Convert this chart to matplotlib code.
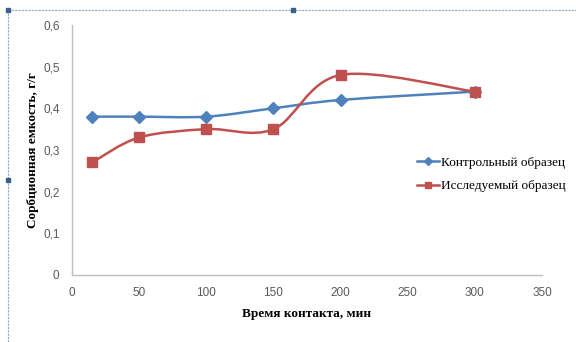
import matplotlib
matplotlib.use('Agg')
import matplotlib.pyplot as plt
from matplotlib.path import Path
from matplotlib.patches import PathPatch
from matplotlib.lines import Line2D
from matplotlib.ticker import FuncFormatter, MultipleLocator

# время контакта, мин
time_min = [15, 50, 100, 150, 200, 300]
# сорбционная емкость, г/г
control = [0.38, 0.38, 0.38, 0.40, 0.42, 0.44]
studied = [0.27, 0.33, 0.35, 0.35, 0.48, 0.44]

series_names = ['Контрольный образец', 'Исследуемый образец']
x_label = 'Время контакта, мин'
y_label = 'Сорбционная емкость, г/г'

BLUE = '#4F81BD'
RED = '#C0504D'
GREY = '#595959'


def smooth_path(xs, ys):
    """Сглаженная линия как в Excel (кривые Безье через точки)."""
    pts = list(zip(xs, ys))
    verts = [pts[0]]
    codes = [Path.MOVETO]
    n = len(pts)
    for i in range(n - 1):
        p0 = pts[i - 1] if i > 0 else pts[i]
        p1 = pts[i]
        p2 = pts[i + 1]
        p3 = pts[i + 2] if i + 2 < n else pts[i + 1]
        c1 = (p1[0] + (p2[0] - p0[0]) / 6, p1[1] + (p2[1] - p0[1]) / 6)
        c2 = (p2[0] - (p3[0] - p1[0]) / 6, p2[1] - (p3[1] - p1[1]) / 6)
        verts += [c1, c2, p2]
        codes += [Path.CURVE4] * 3
    return Path(verts, codes)


fig = plt.figure(figsize=(5.76, 3.42), dpi=100)
ax = fig.add_axes([0.125, 0.196, 0.816, 0.731])

for ys, color, marker, ms, name in [(control, BLUE, 'D', 6, series_names[0]),
                                    (studied, RED, 's', 7, series_names[1])]:
    ax.add_patch(PathPatch(smooth_path(time_min, ys), fill=False,
                           edgecolor=color, lw=1.8, zorder=2))
    ax.plot(time_min, ys, linestyle='none', marker=marker, markersize=ms,
            color=color, zorder=3)

ax.set_xlim(0, 350)
ax.set_ylim(0, 0.6)
ax.xaxis.set_major_locator(MultipleLocator(50))
ax.yaxis.set_major_locator(MultipleLocator(0.1))
ax.yaxis.set_major_formatter(FuncFormatter(
    lambda v, p: '0' if abs(v) < 1e-9 else f'{v:.1f}'.replace('.', ',')))

for s in ['top', 'right']:
    ax.spines[s].set_visible(False)
for s in ['left', 'bottom']:
    ax.spines[s].set_color('#BFBFBF')
    ax.spines[s].set_linewidth(1.0)
ax.tick_params(length=0, pad=9, labelsize=8.5, labelcolor=GREY,
               labelfontfamily='Liberation Sans')

ax.set_xlabel(x_label, fontsize=9.5, fontweight='bold',
              family='Liberation Serif', labelpad=6)
ax.set_ylabel(y_label, fontsize=9.5, fontweight='bold',
              family='Liberation Serif', labelpad=3)

handles = [Line2D([], [], color=BLUE, marker='D', markersize=4, lw=1.8),
           Line2D([], [], color=RED, marker='s', markersize=4.5, lw=1.8)]
fig.legend(handles, series_names, loc='center left',
           bbox_to_anchor=(0.724, 0.49), frameon=False,
           prop={'family': 'Liberation Serif', 'size': 9.5},
           handlelength=1.7, handletextpad=0.1, labelspacing=0.85,
           borderaxespad=0, borderpad=0)

# рамка выделения диаграммы
fig.add_artist(Line2D([0.014, 1.0], [0.971, 0.971], transform=fig.transFigure,
                      color='#8EA9C8', lw=0.8, linestyle=(0, (2, 1))))
fig.add_artist(Line2D([0.014, 0.014], [0.0, 0.971], transform=fig.transFigure,
                      color='#8EA9C8', lw=0.8, linestyle=(0, (2, 1))))
for hx, hy in [(0.014, 0.971), (0.509, 0.971), (0.014, 0.474)]:
    fig.add_artist(Line2D([hx], [hy], transform=fig.transFigure, marker='s',
                          markersize=2.5, color='#3B5E8C'))

fig.savefig('out.png', dpi=100)
